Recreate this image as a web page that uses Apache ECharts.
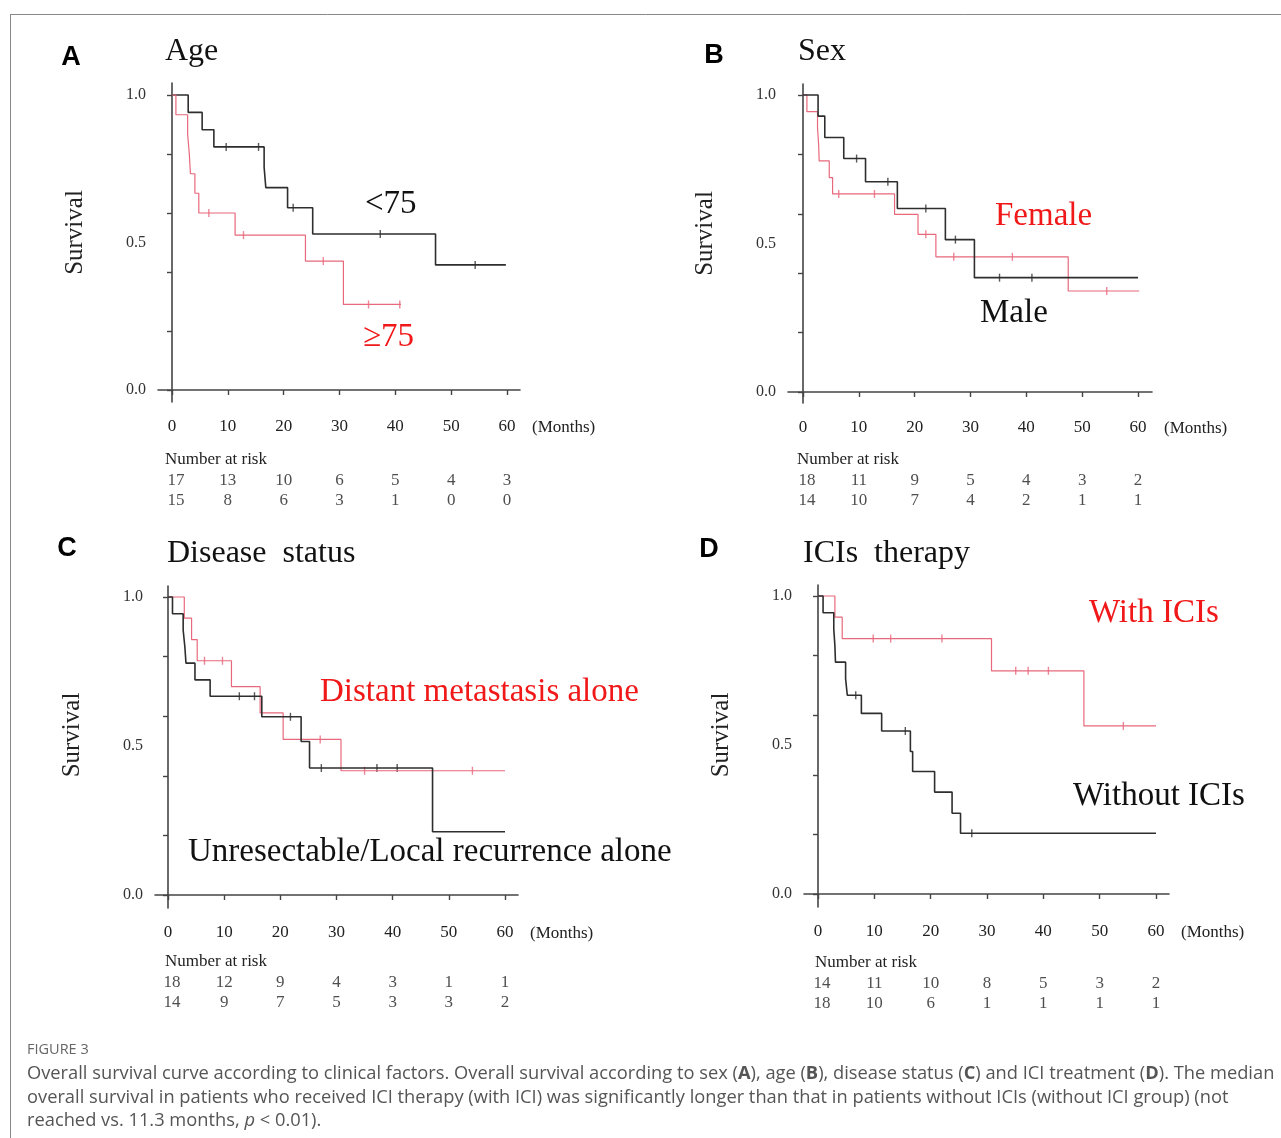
<!DOCTYPE html>
<html>
<head>
<meta charset="utf-8">
<script src="https://cdn.jsdelivr.net/npm/echarts@6/dist/echarts.min.js"></script>
<style>
html, body { margin: 0; padding: 0; background: #fff; }
#chart { width: 1281px; height: 1138px; }
</style>
</head>
<body>
<div id="chart"></div>
<script>
// axis ticks
var monthTicks = [0, 10, 20, 30, 40, 50, 60];
var survTicks = [0, 0.2, 0.4, 0.6, 0.8, 1.0];
var survLabels = [0, 0.5, 1.0];

// A - age : [month, survival] after each drop, censor times
var ageLt75Steps = [[0,1],[2.9,0.941],[5.4,0.882],[7.5,0.824],[16.5,0.755],[16.8,0.686],[20.7,0.618],[25.2,0.529],[47.2,0.424],[59.8,0.424]];
var ageLt75Censor = [9.7, 15.5, 21.7, 37.3, 54.3];
var ageGe75Steps = [[0,1],[0.7,0.933],[2.8,0.867],[3.1,0.8],[3.3,0.733],[4.1,0.667],[4.8,0.6],[11.3,0.525],[23.9,0.437],[30.7,0.29],[41,0.29]];
var ageGe75Censor = [6.6, 12.8, 27.1, 35.2, 40.8];
var ageRisk1 = [17, 13, 10, 6, 5, 4, 3];
var ageRisk2 = [15, 8, 6, 3, 1, 0, 0];

// B - sex
var maleSteps = [[0,1],[2.7,0.929],[3.9,0.857],[7.3,0.786],[11.2,0.708],[16.9,0.618],[25.5,0.513],[30.7,0.385],[60,0.385]];
var maleCensor = [9.6, 15.2, 22.0, 27.3, 35.2, 41.0];
var femaleSteps = [[0,1],[0.7,0.944],[2.6,0.889],[2.8,0.833],[2.9,0.778],[4.7,0.722],[5.3,0.667],[16.4,0.598],[20.6,0.531],[23.8,0.455],[47.5,0.34],[60.2,0.34]];
var femaleCensor = [6.4, 12.8, 22.0, 27.0, 37.5, 54.4];
var sexRisk1 = [18, 11, 9, 5, 4, 3, 2];
var sexRisk2 = [14, 10, 7, 4, 2, 1, 1];

// C - disease status
var localSteps = [[0,1],[0.8,0.944],[2.7,0.889],[3.0,0.833],[3.2,0.778],[4.8,0.722],[7.5,0.667],[16.7,0.598],[23.7,0.515],[25.2,0.426],[47.1,0.212],[60,0.212]];
var localCensor = [12.7, 15.4, 21.8, 27.3, 37.2, 40.8];
var distantSteps = [[0,1],[2.9,0.929],[4.2,0.857],[5.2,0.786],[11.3,0.699],[16.4,0.611],[20.5,0.522],[30.8,0.417],[60,0.417]];
var distantCensor = [6.5, 9.7, 27.1, 35.0, 54.2];
var diseaseRisk1 = [18, 12, 9, 4, 3, 1, 1];
var diseaseRisk2 = [14, 9, 7, 5, 3, 3, 2];

// D - ICIs therapy
var withIciSteps = [[0,1],[3.0,0.929],[4.3,0.857],[30.8,0.749],[47.2,0.564],[60,0.564]];
var withIciCensor = [9.8, 12.9, 22.0, 35.1, 37.3, 40.9, 54.2];
var withoutIciSteps = [[0,1],[0.9,0.944],[2.8,0.889],[3.0,0.833],[3.1,0.778],[4.9,0.722],[5.2,0.667],[7.7,0.606],[11.3,0.547],[16.4,0.478],[16.8,0.411],[20.7,0.342],[23.8,0.271],[25.3,0.204],[60,0.204]];
var withoutIciCensor = [6.7, 15.5, 27.3];
var iciRisk1 = [14, 11, 10, 8, 5, 3, 2];
var iciRisk2 = [18, 10, 6, 1, 1, 1, 1];

var SERIF = 'Liberation Serif, Times New Roman, serif';
var BLACK = '#2e2e2e';
var RED = '#e8687c';
var TXT_RED = '#f01818';

var chart = echarts.init(document.getElementById('chart'));

// survival value at time t from step list
function survAt(steps, t) {
	var v = steps[0][1];
	for (var i = 0; i < steps.length; i++) {
		if (steps[i][0] <= t) v = steps[i][1];
	}
	return v;
}

var grids = [], xAxes = [], yAxes = [], series = [], graphics = [];

// p: pixel layout of one panel
function addPanel(p, curves, risk) {
	var ppm = (p.x60 - p.x0) / 60;
	var ppu = p.y0 - p.y1;
	var xMin = (p.left - p.x0) / ppm;
	var xMax = 60 + (p.right - p.x60) / ppm;
	var gi = grids.length;
	grids.push({ left: p.left, top: p.top, width: p.right - p.left, height: p.bottom - p.top });
	xAxes.push({
		type: 'value', gridIndex: gi, min: xMin, max: xMax,
		axisLine: { lineStyle: { color: '#444', width: 1.6 } },
		axisTick: { customValues: monthTicks, length: 5, lineStyle: { color: '#444', width: 1.4 } },
		axisLabel: { customValues: monthTicks, margin: 16, fontSize: 17, fontFamily: SERIF, color: '#222' },
		splitLine: { show: false }
	});
	yAxes.push({
		type: 'value', gridIndex: gi,
		min: -(p.bottom - p.y0) / ppu, max: 1 + (p.y1 - p.top) / ppu,
		name: 'Survival', nameLocation: 'middle', nameGap: 70, nameRotate: 90,
		nameTextStyle: { fontSize: 25, fontFamily: SERIF, color: '#222', padding: [0, 0, 0, p.nameShift] },
		axisLine: { show: true, lineStyle: { color: '#444', width: 1.6 } },
		axisTick: { show: true, customValues: survTicks, length: 5, lineStyle: { color: '#444', width: 1.4 } },
		axisLabel: { customValues: survLabels, margin: 12, fontSize: 16, fontFamily: SERIF, color: '#333',
			formatter: function (v) { return v.toFixed(1); } },
		splitLine: { show: false }
	});
	curves.forEach(function (c) {
		series.push({
			type: 'line', step: 'end', xAxisIndex: gi, yAxisIndex: gi,
			data: c.steps, showSymbol: false, silent: true,
			lineStyle: { color: c.color, width: c.width }
		});
		series.push({
			type: 'scatter', xAxisIndex: gi, yAxisIndex: gi, silent: true,
			symbol: 'rect', symbolSize: [1.4, 8],
			itemStyle: { color: c.color },
			data: c.censor.map(function (t) { return [t, survAt(c.steps, t)]; })
		});
	});

	// number at risk table on its own grid sharing the month scale
	var ri = grids.length;
	grids.push({ left: p.left, top: p.riskTop, width: p.right - p.left, height: 41 });
	xAxes.push({ type: 'value', gridIndex: ri, min: xMin, max: xMax, show: false });
	yAxes.push({ type: 'category', gridIndex: ri, data: ['r1', 'r2'], inverse: true, show: false });
	var rows = [];
	risk.forEach(function (row, r) {
		row.forEach(function (n, i) {
			rows.push({ value: [monthTicks[i], r, n], label: { offset: [i === 0 ? 4 : 0, 0] } });
		});
	});
	series.push({
		type: 'scatter', xAxisIndex: ri, yAxisIndex: ri, silent: true,
		symbolSize: 1, itemStyle: { color: 'transparent' },
		label: { show: true, position: 'inside', fontSize: 17, fontFamily: SERIF, color: '#222',
			formatter: function (d) { return d.value[2]; } },
		data: rows
	});

	graphics.push({ type: 'text', left: p.right + 12, top: p.bottom + 17,
		style: { text: '(Months)', font: '17px ' + SERIF, fill: '#222' } });
	graphics.push({ type: 'text', x: p.tableX, y: p.riskTop - 10,
		style: { text: 'Number at risk', font: '17px ' + SERIF, fill: '#222', verticalAlign: 'middle' } });
	graphics.push({ type: 'text', x: p.titleX, y: p.titleY,
		style: { text: p.title, font: '32px ' + SERIF, fill: '#111', verticalAlign: 'middle' } });
	graphics.push({ type: 'text', x: p.letterX, y: p.letterY,
		style: { text: p.letter, font: 'bold 27px Liberation Sans, Arial, sans-serif', fill: '#000',
			align: 'center', verticalAlign: 'middle' } });
}

addPanel({ x0: 172, x60: 507, y1: 95, y0: 390, left: 158, right: 520, top: 83, bottom: 402, nameShift: 20,
		riskTop: 470, tableX: 165, title: 'Age', titleX: 165, titleY: 52, letter: 'A', letterX: 71, letterY: 58 },
	[{ steps: ageLt75Steps, censor: ageLt75Censor, color: BLACK, width: 1.6 },
	 { steps: ageGe75Steps, censor: ageGe75Censor, color: RED, width: 1.2 }],
	[ageRisk1, ageRisk2]);
addPanel({ x0: 803, x60: 1138, y1: 95, y0: 392, left: 788, right: 1152, top: 84, bottom: 403, nameShift: 20,
		riskTop: 470, tableX: 797, title: 'Sex', titleX: 798, titleY: 52, letter: 'B', letterX: 714, letterY: 56 },
	[{ steps: femaleSteps, censor: femaleCensor, color: RED, width: 1.2 },
	 { steps: maleSteps, censor: maleCensor, color: BLACK, width: 1.6 }],
	[sexRisk1, sexRisk2]);
addPanel({ x0: 168, x60: 505, y1: 597, y0: 895, left: 155, right: 518, top: 586, bottom: 908, nameShift: 24,
		riskTop: 972, tableX: 165, title: 'Disease  status', titleX: 167, titleY: 554, letter: 'C', letterX: 67, letterY: 549 },
	[{ steps: distantSteps, censor: distantCensor, color: RED, width: 1.2 },
	 { steps: localSteps, censor: localCensor, color: BLACK, width: 1.6 }],
	[diseaseRisk1, diseaseRisk2]);
addPanel({ x0: 818, x60: 1156, y1: 596, y0: 894, left: 804, right: 1169, top: 585, bottom: 907, nameShift: 22,
		riskTop: 973, tableX: 815, title: 'ICIs  therapy', titleX: 803, titleY: 554, letter: 'D', letterX: 709, letterY: 550 },
	[{ steps: withIciSteps, censor: withIciCensor, color: RED, width: 1.2 },
	 { steps: withoutIciSteps, censor: withoutIciCensor, color: BLACK, width: 1.6 }],
	[iciRisk1, iciRisk2]);

// curve labels inside plots
function curveLabel(text, x, y, color) {
	graphics.push({ type: 'text', x: x, y: y,
		style: { text: text, font: '33px ' + SERIF, fill: color, verticalAlign: 'middle' } });
}
curveLabel('<75', 365, 204, '#111');
curveLabel('\u226575', 363, 337, TXT_RED);
curveLabel('Female', 995, 216, TXT_RED);
curveLabel('Male', 980, 313, '#111');
curveLabel('Distant metastasis alone', 320, 692, TXT_RED);
curveLabel('Unresectable/Local recurrence alone', 188, 852, '#111');
curveLabel('With ICIs', 1089, 613, TXT_RED);
curveLabel('Without ICIs', 1073, 796, '#111');

// frame and caption
graphics.push({ type: 'line', shape: { x1: 10, y1: 14.5, x2: 1281, y2: 14.5 }, style: { stroke: '#888', lineWidth: 1 } });
graphics.push({ type: 'line', shape: { x1: 10.5, y1: 14, x2: 10.5, y2: 1138 }, style: { stroke: '#888', lineWidth: 1 } });
var CAP = 'Open Sans, Noto Sans, sans-serif';
graphics.push({ type: 'text', x: 27, y: 1050,
	style: { text: 'FIGURE 3', font: '14.5px ' + CAP, fill: '#666', verticalAlign: 'middle' } });
var capLines = [
	'Overall survival curve according to clinical factors. Overall survival according to sex ({b|A}), age ({b|B}), disease status ({b|C}) and ICI treatment ({b|D}). The median',
	'overall survival in patients who received ICI therapy (with ICI) was significantly longer than that in patients without ICIs (without ICI group) (not',
	'reached vs. 11.3 months, {i|p} < 0.01).'
];
capLines.forEach(function (t, i) {
	graphics.push({ type: 'text', x: 27, y: 1074 + i * 23.5,
		style: { text: t, font: '18.3px ' + CAP, fill: '#555', verticalAlign: 'middle',
			rich: { b: { font: 'bold 18.3px ' + CAP, fill: '#555' }, i: { font: 'italic 18.3px ' + CAP, fill: '#555' } } } });
});

chart.setOption({
	animation: false,
	backgroundColor: '#fff',
	grid: grids,
	xAxis: xAxes,
	yAxis: yAxes,
	series: series,
	graphic: graphics
});
</script>
</body>
</html>
